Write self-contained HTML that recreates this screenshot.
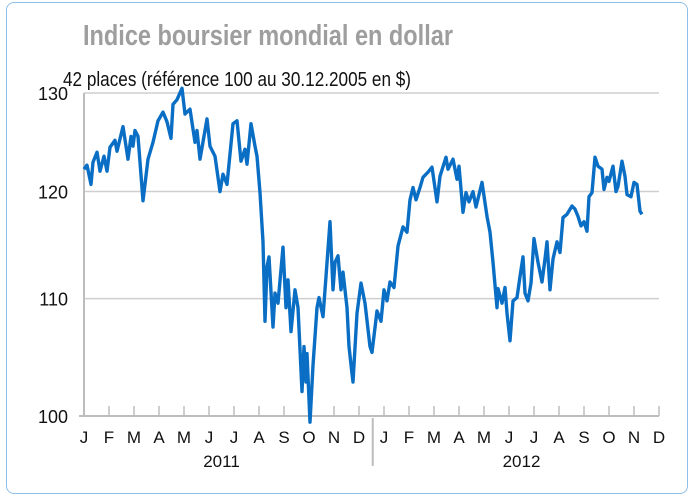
<!DOCTYPE html>
<html><head><meta charset="utf-8"><style>
body{margin:0;background:#fff;width:695px;height:483px;overflow:hidden;font-family:"Liberation Sans",sans-serif;}
#frame{position:absolute;left:6px;top:2px;width:680px;height:490px;border:1.5px solid #8fbfe6;border-radius:8px;}
</style></head><body>
<div id="frame"></div>
<svg width="695" height="483" style="position:absolute;left:0;top:0">
<text x="83" y="45" font-size="29" font-weight="bold" fill="#9e9e9e" textLength="370" lengthAdjust="spacingAndGlyphs" font-family="Liberation Sans, sans-serif">Indice boursier mondial en dollar</text>
<text x="63" y="86" font-size="20" fill="#111" textLength="348" lengthAdjust="spacingAndGlyphs" font-family="Liberation Sans, sans-serif">42 places (référence 100 au 30.12.2005 en $)</text>
<g id="grid"></g><g id="axes"></g><g id="line"></g>
</svg>
<script>
const yTicks=[100,110,120,130];
const monthLabels=["J","F","M","A","M","J","J","A","S","O","N","D","J","F","M","A","M","J","J","A","S","O","N","D"];
const yearLabels=["2011","2012"];
const months=[0,0.12,0.28,0.36,0.52,0.64,0.8,0.92,1.04,1.24,1.32,1.56,1.76,1.88,1.96,2.04,2.16,2.36,2.56,2.76,2.96,3.16,3.32,3.48,3.56,3.72,3.92,4.04,4.24,4.44,4.52,4.64,4.92,5.04,5.24,5.44,5.56,5.72,5.96,6.12,6.28,6.44,6.52,6.68,6.84,6.92,7.04,7.16,7.24,7.32,7.4,7.56,7.64,7.76,7.96,8.08,8.16,8.28,8.44,8.56,8.72,8.8,8.88,8.92,9.04,9.16,9.32,9.4,9.56,9.68,9.84,9.96,10.04,10.16,10.28,10.36,10.52,10.6,10.72,10.76,10.92,11.08,11.24,11.44,11.52,11.72,11.88,12,12.12,12.24,12.4,12.56,12.76,12.92,13.04,13.16,13.28,13.44,13.56,13.76,13.92,14.12,14.24,14.48,14.56,14.76,14.92,15,15.16,15.28,15.4,15.56,15.68,15.92,16.12,16.24,16.36,16.52,16.56,16.72,16.84,16.92,17.04,17.16,17.32,17.44,17.56,17.64,17.76,17.88,18,18.16,18.32,18.44,18.52,18.64,18.76,18.92,19.04,19.16,19.32,19.52,19.64,19.76,19.88,20,20.12,20.2,20.32,20.44,20.56,20.72,20.8,20.92,21,21.16,21.28,21.36,21.52,21.64,21.72,21.88,22,22.12,22.24,22.32];
const values=[122.2,122.6,120.7,122.9,123.9,122.0,123.5,122.0,124.4,125.1,124.0,126.5,123.2,125.5,124.5,126.1,125.5,119.1,123.2,124.9,127.1,128.0,127.0,125.3,128.8,129.3,130.5,127.8,128.3,124.9,126.1,123.2,127.3,124.5,123.5,120.0,121.7,120.7,126.8,127.1,123.0,124.2,122.7,126.8,124.5,123.5,119.9,115.2,108.0,112.9,113.8,107.5,110.5,109.6,114.7,109.2,111.7,107.1,110.8,109.2,102.0,105.8,102.8,105.2,99.5,104.2,109.2,110.1,108.4,112.0,117.1,110.8,113.3,113.9,110.8,112.4,109.2,105.8,103.5,102.8,108.7,111.4,109.6,105.8,105.3,108.9,108.0,110.8,109.8,111.5,111.0,114.8,116.6,116.1,119.2,120.4,119.2,120.4,121.4,121.9,122.4,119.0,121.5,123.4,122.2,123.2,121.2,122.5,118.0,119.9,119.0,120.0,118.5,120.9,117.6,116.1,113.3,109.2,110.9,109.6,111.0,108.7,106.3,109.8,110.1,112.0,113.8,110.5,109.8,111.4,115.5,113.3,111.5,113.6,115.2,110.8,113.6,115.2,114.2,117.5,117.8,118.6,118.3,117.6,116.7,117.1,116.2,119.5,119.9,123.4,122.5,122.2,120.2,121.4,121.0,122.5,120.0,120.5,123.0,121.5,119.7,119.5,120.9,120.7,118.1,117.8];
const NS="http://www.w3.org/2000/svg";
const x0=84,dx=25,xr=659;
function xs(m){return x0+m*dx;}
function ys(v){return 416-1231*Math.log(v/100);}
function mk(tag,attrs,parent){const e=document.createElementNS(NS,tag);for(const k in attrs)e.setAttribute(k,attrs[k]);document.getElementById(parent).appendChild(e);return e;}
yTicks.forEach(v=>{
  if(v>100){const g=mk('line',{x1:x0,x2:xr,y1:ys(v),y2:ys(v),stroke:'#cfcfcf','stroke-width':1.5},'grid');
  
  }
  const t=mk('text',{x:68,y:ys(v)+7,'text-anchor':'end','font-size':18,fill:'#111'},'axes');t.textContent=v;
  
  
});
const ax=mk('line',{x1:x0-5,x2:xr,y1:ys(100),y2:ys(100),stroke:'#bdbdbd','stroke-width':2},'axes');


const ay=mk('line',{x1:x0,x2:x0,y1:ys(130),y2:ys(100),stroke:'#bdbdbd','stroke-width':2},'axes');


monthLabels.forEach((l,i)=>{
  const tk=mk('line',{x1:xs(i),x2:xs(i),y1:ys(100)-10,y2:ys(100),stroke:'#bdbdbd','stroke-width':1.5},'axes');
  
  
  const t=mk('text',{x:xs(i),y:443,'text-anchor':'middle','font-size':17,fill:'#111'},'axes');t.textContent=l;
  
  
});
const sep=mk('line',{x1:xs(11.55),x2:xs(11.55),y1:418,y2:466,stroke:'#bdbdbd','stroke-width':2},'axes');


yearLabels.forEach((l,i)=>{
  const t=mk('text',{x:xs(5.5+i*12),y:467,'text-anchor':'middle','font-size':17,fill:'#111'},'axes');t.textContent=l;
  
  
});
const d=months.map((m,i)=>(i?'L':'M')+xs(m).toFixed(1)+','+ys(values[i]).toFixed(1)).join(' ');
const p=mk('path',{d:d,fill:'none',stroke:'#0a6fc4','stroke-width':3.4,'stroke-linejoin':'round'},'line');


</script>
</body></html>
